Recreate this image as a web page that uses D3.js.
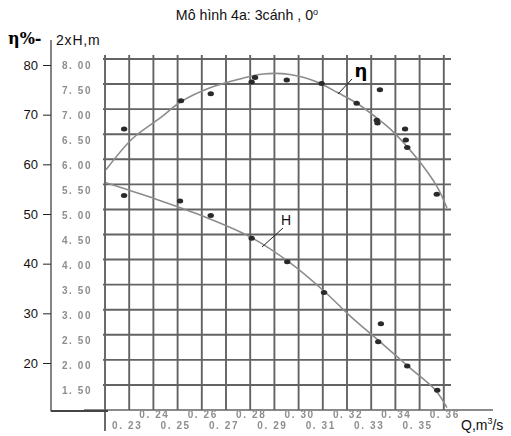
<!DOCTYPE html>
<html><head><meta charset="utf-8">
<script src="https://cdn.jsdelivr.net/npm/d3@7"></script>
<style>body{margin:0;background:#fff}svg{display:block;font-family:"Liberation Sans",Arial,sans-serif}</style>
</head><body>
<svg id="c" width="511" height="436"></svg>
<script>
// ---- data ----
const titleText = "Mô hình 4a: 3cánh , 0";
const yTicks = [80, 70, 60, 50, 40, 30, 20];
const gridYLabels = [8.0, 7.5, 7.0, 6.5, 6.0, 5.5, 5.0, 4.5, 4.0, 3.5, 3.0, 2.5, 2.0, 1.5];
const gridYLines = [8.0, 7.5, 7.0, 6.5, 6.0, 5.5, 5.0, 4.5, 4.0, 3.5, 3.0, 2.5, 2.0, 1.5, 1.0];
const qGrid = [0.22, 0.23, 0.24, 0.25, 0.26, 0.27, 0.28, 0.29, 0.30, 0.31, 0.32, 0.33, 0.34, 0.35, 0.36];
const qTopLabels = [0.24, 0.26, 0.28, 0.30, 0.32, 0.34, 0.36];
const qBottomLabels = [0.23, 0.25, 0.27, 0.29, 0.31, 0.33, 0.35];

// measured points (eta %, 2xH m)
const etaQ = [0.2279, 0.2514, 0.2637, 0.2806, 0.2820, 0.2951, 0.3095, 0.3240, 0.3336, 0.3323, 0.3326, 0.3440, 0.3443, 0.3449, 0.3571];
const etaV = [67.1, 72.8, 74.2, 76.6, 77.5, 77.0, 76.3, 72.3, 75.0, 68.9, 68.3, 67.1, 64.9, 63.4, 54.0];
const hQ = [0.2279, 0.2510, 0.2637, 0.2806, 0.2953, 0.3105, 0.3340, 0.3329, 0.3449, 0.3573];
const hV = [53.7, 52.6, 49.7, 45.1, 40.4, 34.2, 27.9, 24.3, 19.4, 14.5];

// fitted curves
const etaCurveQ = [0.2204, 0.2316, 0.2427, 0.2514, 0.2634, 0.2758, 0.2853, 0.2964, 0.3076, 0.3163, 0.3241, 0.3324, 0.3390, 0.3489, 0.3572, 0.3613];
const etaCurveV = [58.9, 65.3, 69.3, 72.6, 75.4, 77.2, 78.2, 78.1, 76.6, 74.4, 72.3, 69.3, 66.6, 61.2, 55.5, 51.2];
const hCurveQ = [0.2204, 0.2386, 0.2593, 0.2800, 0.2964, 0.3109, 0.3212, 0.3336, 0.3460, 0.3564, 0.3613];
const hCurveV = [56.3, 53.4, 49.8, 45.4, 40.2, 34.3, 29.5, 24.3, 19.0, 14.6, 11.0];

// ---- drawing ----
const svg = d3.select("#c");
const x = d3.scaleLinear().domain([0.22, 0.36]).range([105, 443.8]);
const y = d3.scaleLinear().domain([80, 20]).range([65, 363]);
const yg = d3.scaleLinear().domain([8, 1]).range([59, 410]);

const defs = svg.append("defs");
defs.append("filter").attr("id", "blur").append("feGaussianBlur").attr("stdDeviation", 0.6);
defs.append("filter").attr("id", "blur2").append("feGaussianBlur").attr("stdDeviation", 0.75);

// title
const t = svg.append("text").attr("x", 247).attr("y", 20).attr("text-anchor", "middle")
  .attr("font-size", 14.2).attr("fill", "#111").text(titleText);
t.append("tspan").attr("dy", -5).attr("font-size", 9).text("o");

// grid (scanned)
const grid = svg.append("g").attr("filter", "url(#blur)").attr("stroke", "#646464").attr("stroke-width", 1.9);
grid.selectAll("line.h").data(gridYLines).join("line").attr("class", "h")
  .attr("x1", (d, i) => i === gridYLines.length - 1 ? 84 : 103)
  .attr("x2", (d, i) => i === gridYLines.length - 1 ? 493 : 451)
  .attr("y1", d => yg(d)).attr("y2", d => yg(d))
  .attr("stroke", (d, i) => i === gridYLines.length - 1 ? "#8a8a8a" : null);
grid.selectAll("line.v").data(qGrid).join("line").attr("class", "v")
  .attr("x1", d => x(d)).attr("x2", d => x(d))
  .attr("y1", yg(8) - 4).attr("y2", (d, i) => i === 0 ? 431 : yg(1));

// inner scanned labels
const lab = svg.append("g").attr("filter", "url(#blur2)").attr("fill", "#8e8e8e")
  .attr("font-size", 10).attr("font-weight", "bold").attr("letter-spacing", 1.6);
lab.selectAll("text.gy").data(gridYLabels).join("text").attr("class", "gy")
  .attr("x", 77).attr("y", d => yg(d) + 9.5).attr("text-anchor", "middle").text(d => d3.format(".2f")(d).replace(".", ". "));
lab.selectAll("text.qt").data(qTopLabels).join("text").attr("class", "qt")
  .attr("x", d => x(d) + 1).attr("y", 418).attr("text-anchor", "middle").text(d => d3.format(".2f")(d).replace(".", ". "));
lab.selectAll("text.qb").data(qBottomLabels).join("text").attr("class", "qb")
  .attr("x", d => x(d) - 2).attr("y", 428.5).attr("text-anchor", "middle").text(d => d3.format(".2f")(d).replace(".", ". "));

// curves
const line = d3.line().x(d => x(d[0])).y(d => y(d[1])).curve(d3.curveCatmullRom);
const curves = svg.append("g").attr("fill", "none").attr("stroke", "#8c8c8c").attr("stroke-width", 1.6).attr("filter", "url(#blur)");
curves.append("path").attr("d", line(etaCurveQ.map((q, i) => [q, etaCurveV[i]])));
curves.append("path").attr("d", line(hCurveQ.map((q, i) => [q, hCurveV[i]])));

// points
const pts = svg.append("g").attr("fill", "#2b2b2b").attr("filter", "url(#blur)");
pts.selectAll("ellipse.e").data(etaQ.map((q, i) => [q, etaV[i]])).join("ellipse").attr("class", "e")
  .attr("cx", d => x(d[0])).attr("cy", d => y(d[1])).attr("rx", 3.2).attr("ry", 2.5);
pts.selectAll("ellipse.h").data(hQ.map((q, i) => [q, hV[i]])).join("ellipse").attr("class", "h")
  .attr("cx", d => x(d[0])).attr("cy", d => y(d[1])).attr("rx", 3.2).attr("ry", 2.5);

// curve labels
svg.append("line").attr("x1", 352).attr("y1", 79).attr("x2", 338).attr("y2", 94).attr("stroke", "#222").attr("stroke-width", 1);
svg.append("text").attr("x", 361).attr("y", 77).attr("text-anchor", "middle").attr("font-size", 18)
  .attr("font-weight", "bold").attr("font-family", "DejaVu Sans").attr("fill", "#000").text("η");
svg.append("line").attr("x1", 283).attr("y1", 228).attr("x2", 262).attr("y2", 247).attr("stroke", "#222").attr("stroke-width", 1);
svg.append("text").attr("x", 286).attr("y", 225).attr("text-anchor", "middle").attr("font-size", 14).attr("fill", "#111").text("H");

// outer left axis
const ax = svg.append("g").attr("transform", "translate(51,0)")
  .call(d3.axisLeft(y).tickValues(yTicks).tickSize(8).tickPadding(5).tickSizeOuter(0));
ax.select(".domain").remove();
ax.selectAll(".tick line").attr("stroke", "#222");
ax.selectAll(".tick text").attr("font-size", 13).attr("fill", "#111").attr("font-family", "Liberation Sans, Arial, sans-serif");
svg.append("line").attr("x1", 51).attr("x2", 51).attr("y1", 40).attr("y2", 411.5).attr("stroke", "#333").attr("stroke-width", 1.2);
svg.append("line").attr("x1", 51).attr("x2", 108).attr("y1", 411).attr("y2", 411).attr("stroke", "#444").attr("stroke-width", 1.8);

// axis titles
svg.append("text").attr("x", 8).attr("y", 44).attr("font-size", 16).attr("font-weight", "bold")
  .attr("font-family", "DejaVu Serif").attr("fill", "#000").text("η%-");
svg.append("text").attr("x", 56).attr("y", 45).attr("font-size", 14).attr("letter-spacing", 0.8).attr("fill", "#111").text("2xH,m");
const qt = svg.append("text").attr("x", 461).attr("y", 430).attr("font-size", 14).attr("fill", "#111").text("Q,m");
qt.append("tspan").attr("dy", -6).attr("font-size", 9).text("3");
qt.append("tspan").attr("dy", 6).text("/s");
</script>
</body></html>
